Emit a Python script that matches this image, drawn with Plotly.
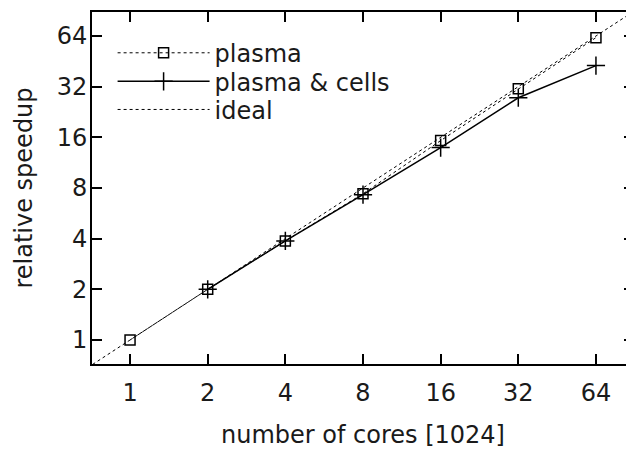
import plotly.graph_objects as go
import math

cores = [1, 2, 4, 8, 16, 32, 64]
plasma = [1.0, 2.0, 3.88, 7.39, 15.3, 31.1, 62.6]
cells_cores = [2, 4, 8, 16, 32, 64]
plasma_cells = [2.0, 3.88, 7.3, 13.9, 27.5, 42.7]
ideal_cores = [0.5, 1, 2, 4, 8, 16, 32, 64, 128]
tick_vals = [1, 2, 4, 8, 16, 32, 64]
tick_text = ["1", "2", "4", "8", "16", "32", "64"]

FONT = "DejaVu Sans, Liberation Sans, sans-serif"
FS = 24
TXT = "#1a1a1a"

fig = go.Figure()
fig.add_trace(go.Scatter(
    x=cores, y=plasma, name="plasma", mode="lines+markers",
    line=dict(color="black", width=1, dash="dot"),
    marker=dict(symbol="square-open", size=10, color="black", line=dict(width=1.5)),
    legend="legend"))
fig.add_trace(go.Scatter(
    x=cells_cores, y=plasma_cells, name="plasma & cells", mode="lines+markers",
    line=dict(color="black", width=1.5),
    marker=dict(symbol="cross-thin-open", size=13, color="black",
                line=dict(width=1.5, color="black")),
    legend="legend2"))
fig.add_trace(go.Scatter(
    x=ideal_cores, y=ideal_cores, name="ideal", mode="lines",
    line=dict(color="black", width=1, dash="dot"),
    legend="legend3"))
# invisible trace carrying the right-hand tick marks
fig.add_trace(go.Scatter(x=cores, y=plasma, yaxis="y2", mode="none",
                         showlegend=False, hoverinfo="skip"))

xr = [math.log10(2 ** -0.49), math.log10(2 ** 6.49)]
yr = [math.log10(2 ** -0.474), math.log10(2 ** 6.474)]

def leg(y):
    return dict(x=0.038, y=y, xanchor="left", yanchor="middle",
                bgcolor="rgba(0,0,0,0)", borderwidth=0, itemwidth=92,
                font=dict(family=FONT, size=FS, color=TXT))

fig.update_layout(
    width=626, height=444,
    margin=dict(l=84, r=0, t=4, b=88),
    paper_bgcolor="white", plot_bgcolor="white",
    font=dict(family=FONT, size=FS, color=TXT),
    showlegend=True,
    legend=leg(0.883), legend2=leg(0.802), legend3=leg(0.722),
    xaxis=dict(type="log", range=xr, tickvals=tick_vals, ticktext=tick_text,
               ticks="inside", ticklen=10, tickwidth=2, tickcolor="black",
               showline=True, linewidth=2, linecolor="black", mirror="ticks",
               showgrid=False, zeroline=False, ticklabelstandoff=6,
               title=dict(text="number of cores [1024]", standoff=20,
                          font=dict(family=FONT, size=FS, color=TXT))),
    yaxis=dict(type="log", range=yr, tickvals=tick_vals, ticktext=tick_text,
               ticks="inside", ticklen=10, tickwidth=2, tickcolor="black",
               showline=True, linewidth=2, linecolor="black", mirror=False,
               showgrid=False, zeroline=False, ticklabelstandoff=-2,
               title=dict(text="relative speedup", standoff=17,
                          font=dict(family=FONT, size=FS, color=TXT))),
    yaxis2=dict(type="log", range=yr, tickvals=tick_vals, overlaying="y",
                side="right", anchor="x", ticks="inside", ticklen=10,
                tickwidth=2, tickcolor="black", showticklabels=False,
                showline=False, showgrid=False, zeroline=False),
)

fig.write_html("out.html")
